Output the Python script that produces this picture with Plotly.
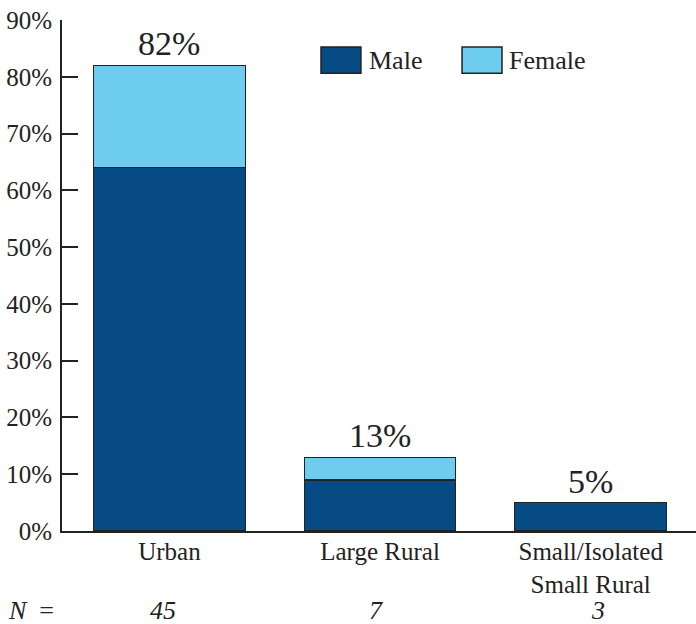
import plotly.graph_objects as go

categories = ["Urban", "Large Rural", "Small/Isolated<br>Small Rural"]
male = [64, 9, 5]
female = [18, 4, 0]
n_counts = [45, 7, 3]
y_ticks = [0, 10, 20, 30, 40, 50, 60, 70, 80, 90]

male_color = "#074B85"
female_color = "#6ECDEE"
edge = "#222222"
serif = "Liberation Serif"
txt = "#222222"

fig = go.Figure()
fig.add_trace(go.Bar(x=categories, y=male, name="Male",
                     marker=dict(color=male_color, line=dict(color=edge, width=1.2))))
fig.add_trace(go.Bar(x=categories, y=female, name="Female",
                     marker=dict(color=female_color, line=dict(color=edge, width=1.2))))

totals = [m + f for m, f in zip(male, female)]
for c, t in zip(categories, totals):
    fig.add_annotation(x=c, y=t, text=f"{t}%", showarrow=False, yanchor="bottom",
                       yshift=1, font=dict(family=serif, size=34, color=txt))

n_xshift = [-6, -4, 7]
for c, n, dx in zip(categories, n_counts, n_xshift):
    fig.add_annotation(x=c, xref="x", y=-0.1546, yref="paper", text=f"<i>{n}</i>",
                       showarrow=False, yanchor="middle", xshift=dx,
                       font=dict(family=serif, size=26, color=txt))
fig.add_annotation(x=-0.088, xref="paper", y=-0.1546, yref="paper",
                   text="<i>N</i>&nbsp;&nbsp;=",
                   showarrow=False, xanchor="left", yanchor="middle",
                   font=dict(family=serif, size=26, color=txt))

# legend
legend_items = [("Male", male_color, 0.4085, 0.481), ("Female", female_color, 0.631, 0.702)]
for name, col, x0, xt in legend_items:
    fig.add_shape(type="rect", xref="paper", yref="paper", x0=x0, x1=x0 + 0.063,
                  y0=0.896, y1=0.947, fillcolor=col, line=dict(color=edge, width=1.5))
    fig.add_annotation(x=xt, xref="paper", y=0.9217, yref="paper", text=name,
                       showarrow=False, xanchor="left", yanchor="middle",
                       font=dict(family=serif, size=26, color=txt))

fig.update_layout(
    barmode="stack",
    bargap=0.28,
    width=696, height=624,
    margin=dict(l=62, r=0, t=20, b=93, autoexpand=False),
    plot_bgcolor="white", paper_bgcolor="white",
    showlegend=False,
    font=dict(family=serif, size=25, color=txt),
    xaxis=dict(showline=True, linecolor=edge, linewidth=2, ticks="",
               range=[-0.51, 2.5],
               tickfont=dict(family=serif, size=25, color=txt), showgrid=False,
               ticklabelstandoff=-3, automargin=False),
    yaxis=dict(range=[0, 90], tickvals=y_ticks, ticktext=[f"{v}%" for v in y_ticks],
               ticks="inside", ticklen=16, tickwidth=2, tickcolor=edge, showline=True,
               linecolor=edge, linewidth=2, showgrid=False, zeroline=False,
               ticklabelstandoff=3,
               tickfont=dict(family=serif, size=25, color=txt), automargin=False),
)

fig.write_html("out.html", config={"displayModeBar": False},
               post_script="document.body.style.margin='0';document.body.style.overflow='hidden';")
